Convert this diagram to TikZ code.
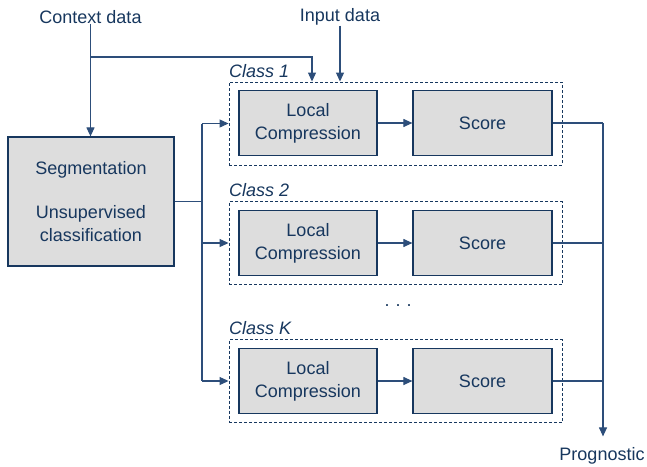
\documentclass[tikz,border=0pt]{standalone}
\usepackage{fontspec}
\setmainfont{Liberation Sans}
\usetikzlibrary{arrows.meta}
\definecolor{navy}{RGB}{23,55,94}
\definecolor{lineblue}{RGB}{45,78,122}
\definecolor{boxgray}{RGB}{221,221,221}
\tikzset{
  txt/.style={font=\fontsize{18}{23}\selectfont, text=navy, inner sep=2pt},
  lbl/.style={txt, font=\fontsize{18}{23}\selectfont\itshape},
  gbox/.style={draw=navy, line width=1.2pt, fill=boxgray, txt, align=center},
  cbox/.style={draw=navy, line width=0.9pt, dash pattern=on 3pt off 2pt, minimum width=333pt, minimum height=83pt, inner sep=0pt},
  conn/.style={draw=lineblue, line width=1.1pt},
  arr/.style={conn, -{Triangle[length=9pt,width=8pt]}}
}
\begin{document}
\begin{tikzpicture}[x=1pt,y=-1pt]
\useasboundingbox (0,0) rectangle (647,466);
% top texts
\node[txt] (ctx) at (90.5,17) {Context data};
\node[txt] (inp) at (340,17) {Input data};
% segmentation
\node[gbox, minimum width=166pt, minimum height=129pt] (seg) at (91,201.5)
  {Segmentation\\[21pt]Unsupervised\\classification};
% class boxes
\node[cbox] (c1) at (395.5,123.5) {};
\node[cbox] (c2) at (395.5,243) {};
\node[cbox] (ck) at (395.5,381) {};
\node[lbl, anchor=west] (l1) at (227,71) {Class 1};
\node[lbl, anchor=west] (l2) at (227,190.5) {Class 2};
\node[lbl, anchor=west] (lk) at (227,328) {Class K};
% inner boxes
\foreach \n/\y in {1/123, 2/243, k/381}{
  \node[gbox, minimum width=138pt, minimum height=65pt] (lc\n) at (308,\y) {Local\\Compression};
  \node[gbox, minimum width=139pt, minimum height=65pt] (sc\n) at (482.5,\y) {Score};
  \draw[arr] (lc\n) -- (sc\n);
}
\node[txt, anchor=base] (dots) at (398,306) {.\,\,.\,\,.};
\node[txt] (prog) at (602,456) {Prognostic};
% context connectors
\coordinate (br) at (90.5,57);
\coordinate (tap) at (312,57);
\draw[arr] ([yshift=2pt]ctx.south) -- (ctx.south |- seg.north);
\draw[arr] (br) -- (tap) -- (tap |- c1.north);
\draw[arr] ([yshift=2pt]inp.south) -- (inp.south |- c1.north);
% segmentation to classes
\coordinate (sp) at (202,201.5);
\draw[conn] (seg.east) -- (sp);
\draw[conn] (sp |- c1.west) -- (sp |- ck.west);
\draw[arr] (sp |- c1.west) -- (c1.west);
\draw[arr] (sp |- c2.west) -- (c2.west);
\draw[arr] (sp |- ck.west) -- (ck.west);
% outputs
\coordinate (out) at (603,123);
\draw[conn] (sc1.east) -- (sc1.east -| out);
\draw[conn] (sc2.east) -- (sc2.east -| out);
\draw[conn] (sck.east) -- (sck.east -| out);
\draw[arr] (sc1.east -| out) -- (out |- prog.north) [shorten >=9pt];
\end{tikzpicture}
\end{document}
